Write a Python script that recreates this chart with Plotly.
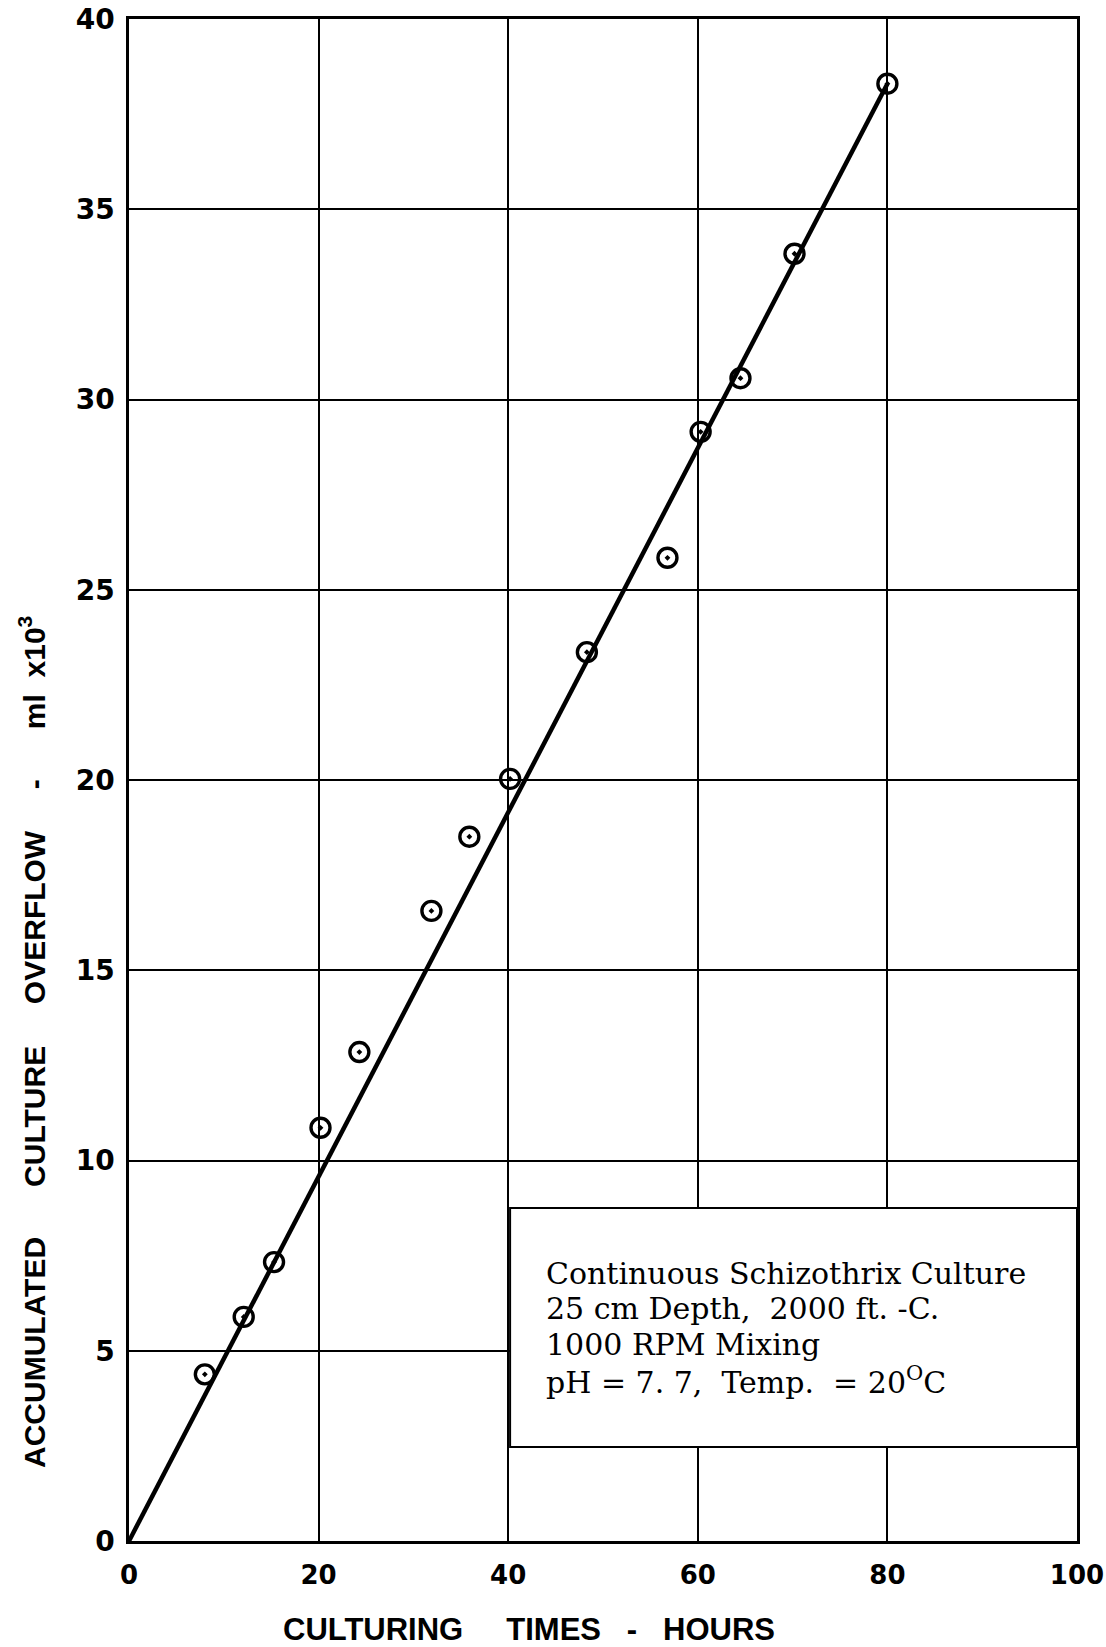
import plotly.graph_objects as go

# Measured culture overflow vs. culturing time
hours = [8.0, 12.1, 15.3, 20.2, 24.3, 31.9, 35.9, 40.2, 48.3, 56.8, 60.3, 64.5, 70.2, 80.0]
overflow = [4.38, 5.89, 7.33, 10.86, 12.85, 16.56, 18.51, 20.03, 23.36, 25.84, 29.15, 30.56, 33.83, 38.3]

# Fitted straight line through the origin
fit_hours = [0, 80]
fit_overflow = [0, 38.3]

x_ticks = [0, 20, 40, 60, 80, 100]
y_ticks = [0, 5, 10, 15, 20, 25, 30, 35, 40]

note_lines = [
    "Continuous Schizothrix Culture",
    "25 cm Depth,\u00a0 2000 ft. -C.",
    "1000 RPM Mixing",
    "pH = 7. 7,\u00a0 Temp.\u00a0 = 20<sup>O</sup>C",
]

W, H = 1106, 1647
L, R, T, B = 129, 29, 19, 106
PH = H - T - B
PW = W - L - R


def px_x(px):
    return (px - L) / PW


def px_y(py):
    return (H - B - py) / PH


def gap(n):
    return "\u00a0" * n


fig = go.Figure()

fig.add_trace(go.Scatter(
    x=fit_hours, y=fit_overflow, mode="lines",
    line=dict(color="black", width=4.5), hoverinfo="skip", showlegend=False,
))
fig.add_trace(go.Scatter(
    x=hours, y=overflow, mode="markers",
    marker=dict(symbol="circle-open-dot", size=19, color="black",
                line=dict(color="black", width=3.4)),
    showlegend=False,
))

# Condition box in the lower right corner
fig.add_shape(type="rect", xref="x", yref="y", x0=40.2, x1=100, y0=2.47, y1=8.75,
              fillcolor="white", line=dict(color="black", width=2), layer="above")

serif = dict(family="DejaVu Serif", size=30, color="black")
for i, txt in enumerate(note_lines):
    fig.add_annotation(text=txt, xref="paper", yref="paper",
                       x=px_x(544), y=px_y(1273 + 35.7 * i),
                       xanchor="left", yanchor="middle", showarrow=False,
                       font=serif, align="left")

fig.add_annotation(
    text="CULTURING" + gap(5) + "TIMES" + gap(3) + "-" + gap(3) + "HOURS",
    xref="paper", yref="paper", x=px_x(529), y=px_y(1630),
    xanchor="center", yanchor="middle", showarrow=False,
    font=dict(family="Liberation Sans", size=31, color="black", weight="bold"),
)
fig.add_annotation(
    text="ACCUMULATED" + gap(6) + "CULTURE" + gap(5) + "OVERFLOW" + gap(5) + "-"
         + gap(6) + "ml" + gap(2) + "x10<sup>3</sup>",
    xref="paper", yref="paper", x=px_x(32), y=px_y(1042),
    xanchor="center", yanchor="middle", textangle=-90, showarrow=False,
    font=dict(family="Liberation Sans", size=30, color="black", weight="bold"),
)

tick_font = dict(family="DejaVu Sans", color="black", weight="bold")

fig.update_xaxes(
    range=[0, 100], tickvals=x_ticks, ticktext=[str(v) for v in x_ticks],
    showgrid=True, gridcolor="black", gridwidth=1.5,
    showline=True, linecolor="black", linewidth=2.5, mirror=True,
    zeroline=False, ticks="", ticklabelstandoff=9,
    tickfont=dict(size=26, **tick_font), automargin=False,
)
fig.update_yaxes(
    range=[0, 40], tickvals=y_ticks, ticktext=[str(v) for v in y_ticks],
    showgrid=True, gridcolor="black", gridwidth=1.5,
    showline=True, linecolor="black", linewidth=2.5, mirror=True,
    zeroline=False, ticks="", ticklabelstandoff=6,
    tickfont=dict(size=28, **tick_font), automargin=False,
)

fig.update_layout(
    width=W, height=H,
    margin=dict(l=L, r=R, t=T, b=B, pad=0),
    paper_bgcolor="white", plot_bgcolor="white",
    showlegend=False,
)

fig.write_html("out.html")
